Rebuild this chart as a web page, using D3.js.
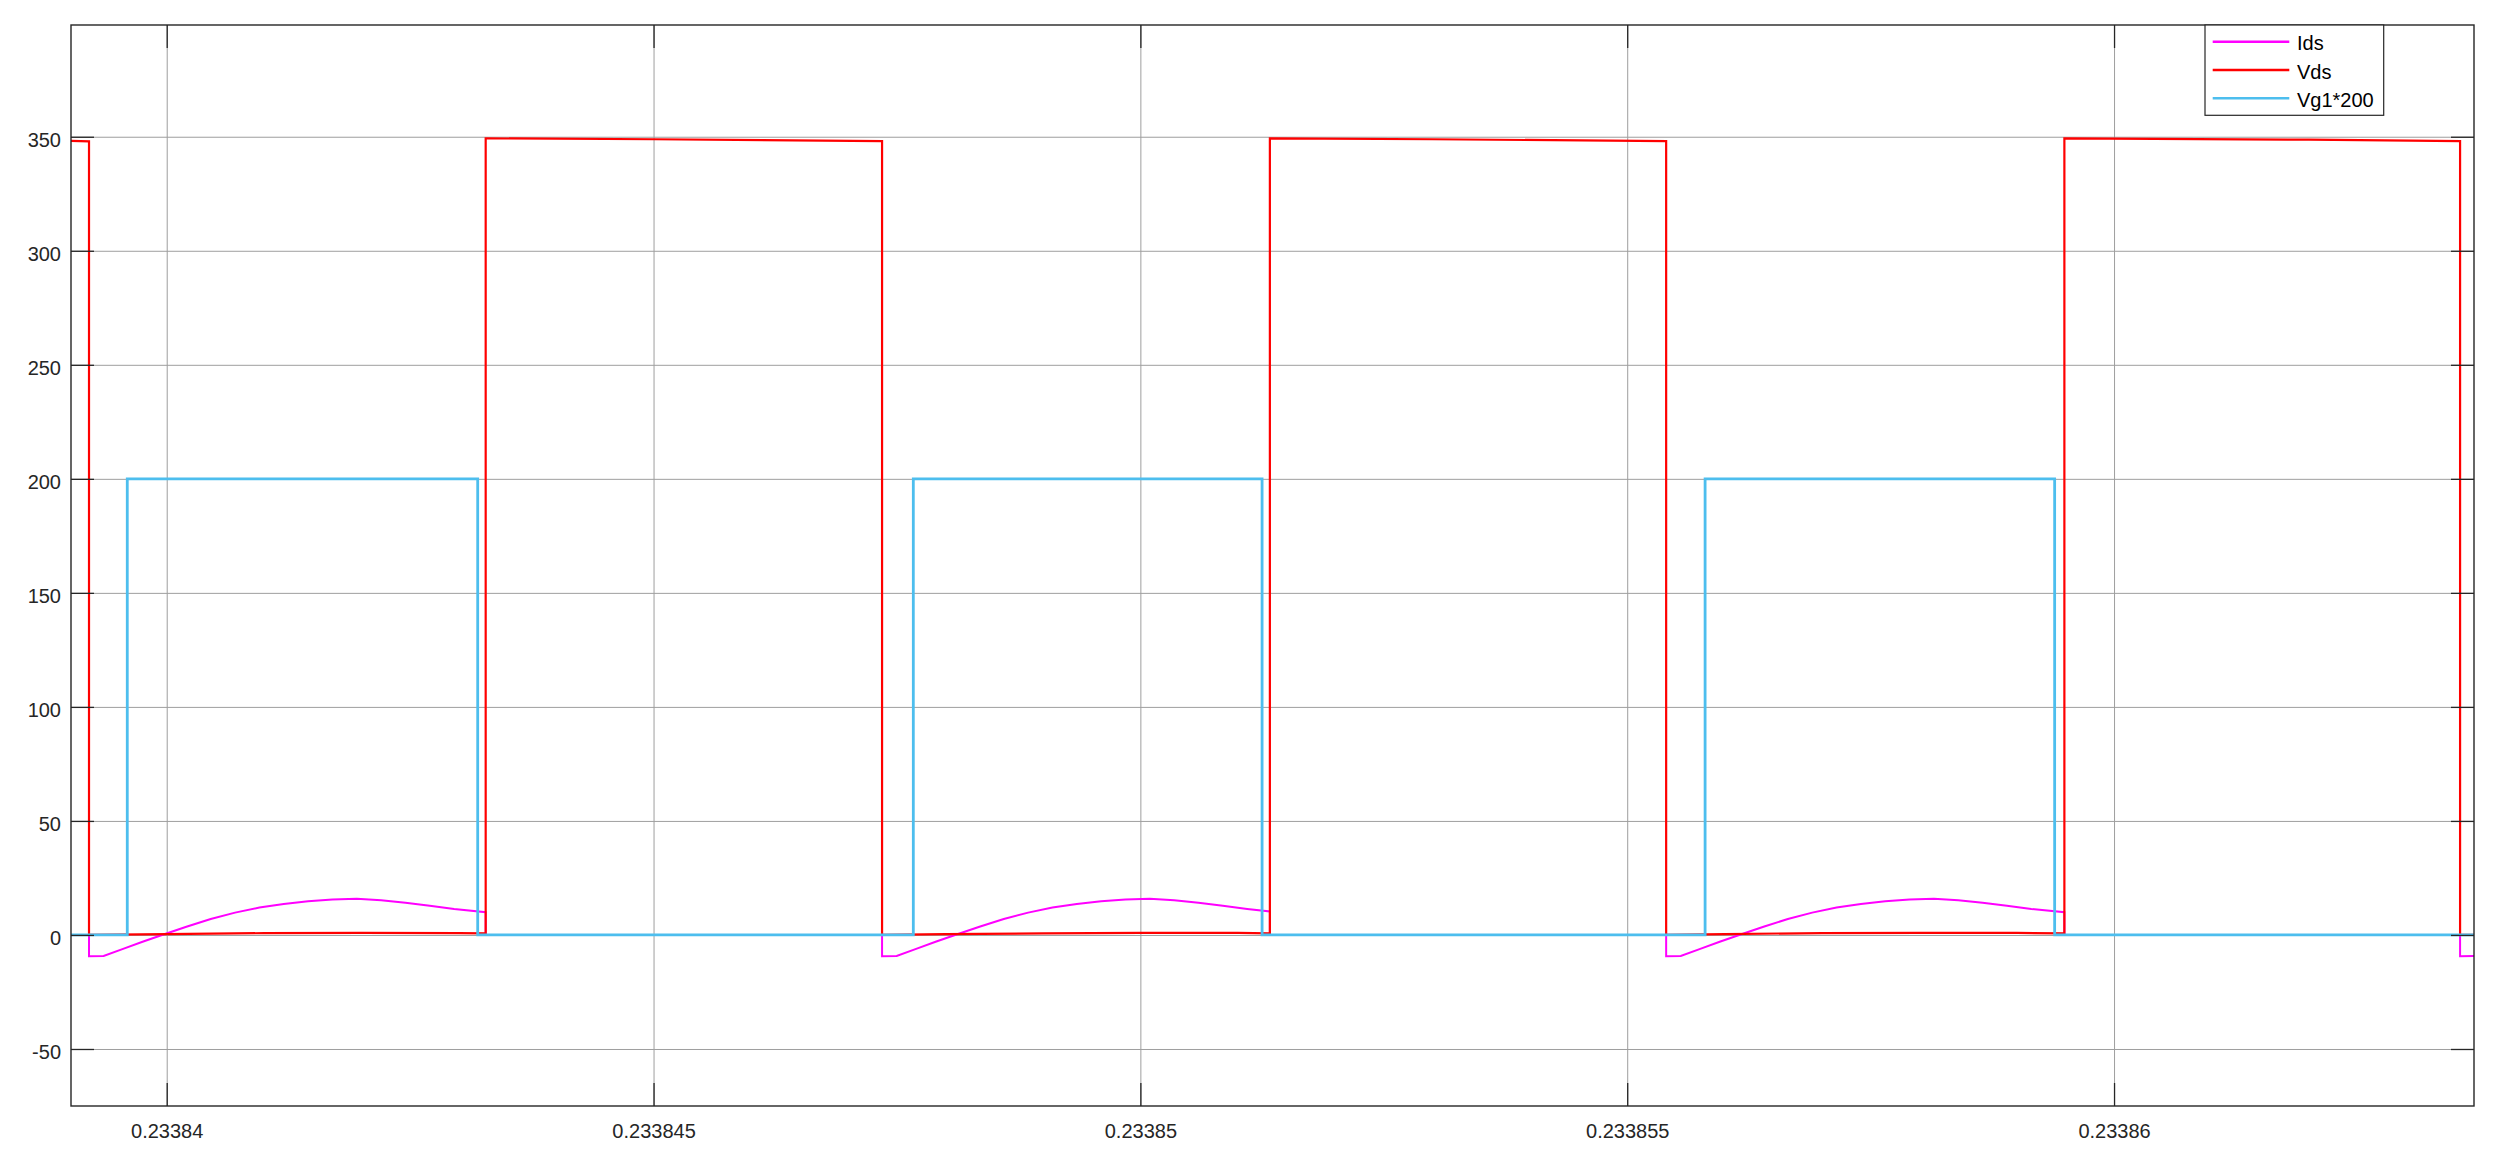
<!DOCTYPE html>
<html>
<head>
<meta charset="utf-8">
<script src="https://cdn.jsdelivr.net/npm/d3@7"></script>
<style>
  html, body { margin: 0; padding: 0; background: #ffffff; }
  svg { display: block; }
  text { font-family: "Liberation Sans", Arial, Helvetica, sans-serif; }
</style>
</head>
<body>
<svg id="chart" width="2496" height="1163"></svg>
<script>
// ---------- data ----------
const xDomain = [0.233839017, 0.233863697];
const yDomain = [-75, 399];
const xTickValues = [0.23384, 0.233845, 0.23385, 0.233855, 0.23386];
const xTickLabels = ["0.23384", "0.233845", "0.23385", "0.233855", "0.23386"];
const yTickValues = [-50, 0, 50, 100, 150, 200, 250, 300, 350];
const yTickLabels = ["-50", "0", "50", "100", "150", "200", "250", "300", "350"];
const seriesNames = ["Ids", "Vds", "Vg1*200"];
const seriesColors = ["#ff00ff", "#ff0000", "#4dbeee"];

const idsTime = [
  0.233839017, 0.233839202,
  0.233839202, 0.233839352, 0.233839552, 0.233839752, 0.233839952, 0.233840202, 0.233840452, 0.233840702,
  0.233840952, 0.233841202, 0.233841452, 0.233841702, 0.233841952, 0.233842202, 0.233842452, 0.233842702,
  0.233842952, 0.233843276, 0.233843276, 0.233847347,
  0.233847347, 0.233847497, 0.233847697, 0.233847897, 0.233848097, 0.233848347, 0.233848597, 0.233848847,
  0.233849097, 0.233849347, 0.233849597, 0.233849847, 0.233850097, 0.233850347, 0.233850597, 0.233850847,
  0.233851097, 0.23385133, 0.23385133, 0.2338554,
  0.2338554, 0.23385555, 0.23385575, 0.23385595, 0.23385615, 0.2338564, 0.23385665, 0.2338569,
  0.23385715, 0.2338574, 0.23385765, 0.2338579, 0.23385815, 0.2338584, 0.23385865, 0.2338589,
  0.23385915, 0.23385949, 0.23385949, 0.233863554,
  0.233863554, 0.233863697
];
const idsValue = [
  0, 0,
  -9.3, -9.2, -6.1, -3.0, 0.0, 3.6, 7.0, 9.8,
  12.0, 13.6, 14.8, 15.6, 15.9, 15.2, 14.1, 12.8,
  11.4, 10.0, 0, 0,
  -9.3, -9.2, -6.1, -3.0, 0.0, 3.6, 7.0, 9.8,
  12.0, 13.6, 14.8, 15.6, 15.9, 15.2, 14.1, 12.8,
  11.4, 10.3, 0, 0,
  -9.3, -9.2, -6.1, -3.0, 0.0, 3.6, 7.0, 9.8,
  12.0, 13.6, 14.8, 15.6, 15.9, 15.2, 14.1, 12.8,
  11.4, 10.0, 0, 0,
  -9.3, -9.2
];

const vdsTime = [
  0.233839017, 0.233839202,
  0.233839202, 0.23384, 0.233841, 0.233842, 0.233843, 0.233843276,
  0.233843276, 0.233845, 0.233847347,
  0.233847347, 0.233848, 0.233849, 0.23385, 0.233851, 0.23385133,
  0.23385133, 0.233853, 0.2338554,
  0.2338554, 0.233856, 0.233857, 0.233858, 0.233859, 0.23385949,
  0.23385949, 0.233862, 0.233863554,
  0.233863554, 0.233863697
];
const vdsValue = [
  348.2, 348.0,
  0, 0.4, 0.8, 0.9, 0.8, 0.7,
  349.3, 348.9, 348.1,
  0, 0.4, 0.7, 0.9, 0.9, 0.7,
  349.3, 348.9, 348.1,
  0, 0.4, 0.8, 0.9, 0.9, 0.7,
  349.3, 348.7, 348.1,
  0, 0
];

const vgTime = [
  0.233839017, 0.233839595, 0.233839595, 0.233843194, 0.233843194,
  0.233847668, 0.233847668, 0.23385125, 0.23385125,
  0.2338558, 0.2338558, 0.23385939, 0.23385939, 0.233863697
];
const vgValue = [
  0, 0, 200, 200, 0,
  0, 200, 200, 0,
  0, 200, 200, 0, 0
];

// ---------- layout ----------
(function () {
const svg = d3.select("#chart");
const pL = 71, pR = 2474, pT = 25, pB = 1106;
const W = pR - pL, H = pB - pT;
const tickLen = 23;

const x = d3.scaleLinear().domain(xDomain).range([pL, pR]);
const y = d3.scaleLinear().domain(yDomain).range([pB, pT]);

// grid
const gridColor = "#9e9e9e";
const grid = svg.append("g");
grid.append("g")
  .attr("transform", `translate(0,${pB})`)
  .call(d3.axisBottom(x).tickValues(xTickValues).tickSize(-H).tickFormat(""))
  .call(g => g.select(".domain").remove())
  .call(g => g.selectAll("line").attr("stroke", gridColor).attr("stroke-width", 1));
grid.append("g")
  .attr("transform", `translate(${pL},0)`)
  .call(d3.axisLeft(y).tickValues(yTickValues).tickSize(-W).tickFormat(""))
  .call(g => g.select(".domain").remove())
  .call(g => g.selectAll("line").attr("stroke", gridColor).attr("stroke-width", 1));

// data lines
svg.append("clipPath").attr("id", "plotclip")
  .append("rect").attr("x", pL).attr("y", pT).attr("width", W).attr("height", H);

const series = [
  { name: seriesNames[0], color: seriesColors[0], t: idsTime, v: idsValue, w: 2.0 },
  { name: seriesNames[1], color: seriesColors[1], t: vdsTime, v: vdsValue, w: 2.2 },
  { name: seriesNames[2], color: seriesColors[2], t: vgTime, v: vgValue, w: 2.8 }
];
const lineGen = d3.line().x(d => x(d[0])).y(d => y(d[1]));
const plot = svg.append("g").attr("clip-path", "url(#plotclip)");
series.forEach(s => {
  plot.append("path")
    .datum(s.t.map((t, i) => [t, s.v[i]]))
    .attr("fill", "none")
    .attr("stroke", s.color)
    .attr("stroke-width", s.w)
    .attr("stroke-linejoin", "miter")
    .attr("d", lineGen);
});

// axes (ticks inward on all four sides)
const axisColor = "#262626";
function styleAxis(g) {
  g.select(".domain").remove();
  g.selectAll("line").attr("stroke", axisColor).attr("stroke-width", 1.3);
  g.selectAll("text").attr("fill", axisColor).attr("font-size", 20)
    .attr("font-family", '"Liberation Sans", Arial, Helvetica, sans-serif');
}
svg.append("g")
  .attr("transform", `translate(0,${pB})`)
  .call(d3.axisBottom(x).tickValues(xTickValues).tickSizeInner(-tickLen).tickSizeOuter(0)
        .tickPadding(18).tickFormat((d, i) => xTickLabels[i]))
  .call(styleAxis);
svg.append("g")
  .attr("transform", `translate(0,${pT})`)
  .call(d3.axisTop(x).tickValues(xTickValues).tickSizeInner(-tickLen).tickSizeOuter(0).tickFormat(""))
  .call(styleAxis);
svg.append("g")
  .attr("transform", `translate(${pL},0)`)
  .call(d3.axisLeft(y).tickValues(yTickValues).tickSizeInner(-tickLen).tickSizeOuter(0)
        .tickPadding(10).tickFormat((d, i) => yTickLabels[i]))
  .call(styleAxis)
  .call(g => g.selectAll("text").attr("dy", "0.5em"));
svg.append("g")
  .attr("transform", `translate(${pR},0)`)
  .call(d3.axisRight(y).tickValues(yTickValues).tickSizeInner(-tickLen).tickSizeOuter(0).tickFormat(""))
  .call(styleAxis);

// box
svg.append("rect")
  .attr("x", pL).attr("y", pT).attr("width", W).attr("height", H)
  .attr("fill", "none").attr("stroke", axisColor).attr("stroke-width", 1.4);

// legend
const lg = svg.append("g");
lg.append("rect")
  .attr("x", 2205).attr("y", pT).attr("width", 178.7).attr("height", 90.3)
  .attr("fill", "#ffffff").attr("stroke", axisColor).attr("stroke-width", 1.2);
const legendY = [41.7, 70, 98.3];
series.forEach((s, i) => {
  lg.append("line")
    .attr("x1", 2212.7).attr("x2", 2289.3)
    .attr("y1", legendY[i]).attr("y2", legendY[i])
    .attr("stroke", s.color).attr("stroke-width", 2.4);
  lg.append("text")
    .attr("x", 2297).attr("y", legendY[i] + 8.5)
    .attr("font-size", 20).attr("fill", "#000000")
    .text(s.name);
});
})();
</script>
</body>
</html>
